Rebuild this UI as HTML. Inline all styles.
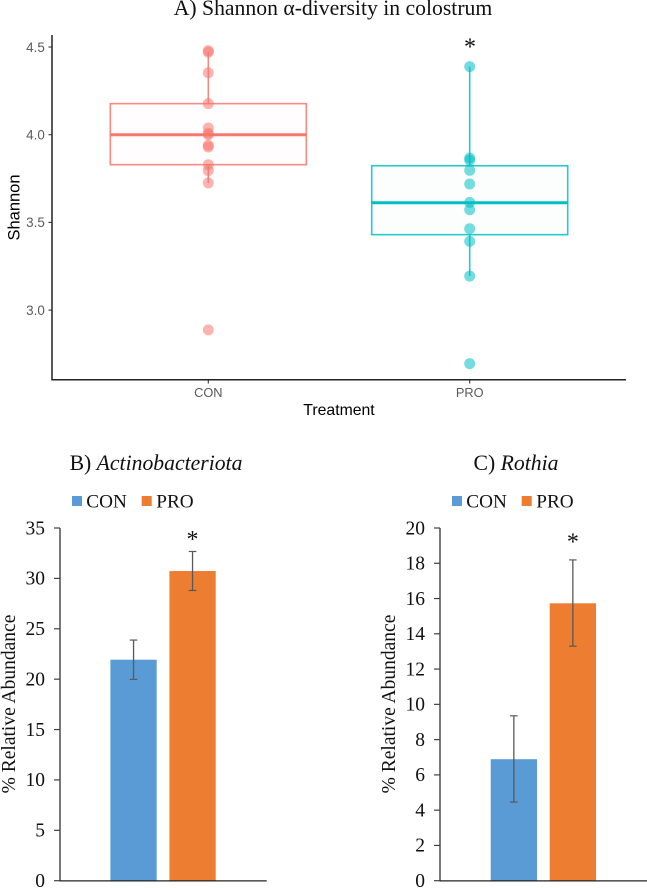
<!DOCTYPE html>
<html>
<head>
<meta charset="utf-8">
<title>Colostrum microbiota charts</title>
<style>
html,body{margin:0;padding:0;background:#fff;}
svg{display:block;}
.serif{font-family:"Liberation Serif",serif;fill:#111;}
.sans{font-family:"Liberation Sans",sans-serif;}
</style>
</head>
<body>
<svg id="figure" xmlns="http://www.w3.org/2000/svg" width="647" height="888" viewBox="0 0 647 888">
  <rect x="0" y="0" width="647" height="888" fill="#fff"/>
  <text class="serif" x="333" y="15" font-size="21.7" text-anchor="middle">A) Shannon α-diversity in colostrum</text>
  <text class="sans" transform="translate(19.3,207.5) rotate(-90)" font-size="16.5" text-anchor="middle" fill="#000">Shannon</text>
  <text class="sans" x="339" y="415" font-size="15.8" text-anchor="middle" fill="#000">Treatment</text>
  <text class="serif" x="470" y="54.5" font-size="24" text-anchor="middle">*</text>
  <g id="panel-a"></g>

  <text class="serif" x="156" y="470" font-size="21.7" text-anchor="middle">B) <tspan font-style="italic">Actinobacteriota</tspan></text>
  <text class="serif" transform="translate(15,704) rotate(-90)" font-size="19.5" text-anchor="middle">% Relative Abundance</text>
  <g id="panel-b"></g>

  <text class="serif" x="516" y="470" font-size="21.7" text-anchor="middle">C) <tspan font-style="italic">Rothia</tspan></text>
  <text class="serif" transform="translate(395,704) rotate(-90)" font-size="19.5" text-anchor="middle">% Relative Abundance</text>
  <g id="panel-c"></g>
</svg>
<script>
var boxGroups = ['CON', 'PRO'];
var boxTicks = [3.0, 3.5, 4.0, 4.5];
var conPoints = [4.479, 4.47, 4.353, 4.177, 4.038, 4.008, 4.0, 3.94, 3.93, 3.829, 3.795, 3.725, 2.887];
var proPoints = [4.388, 3.867, 3.854, 3.797, 3.719, 3.614, 3.572, 3.464, 3.392, 3.194, 2.695];
var conBox = [3.725, 3.829, 4.0, 4.177, 4.47];
var proBox = [3.194, 3.43, 3.612, 3.823, 4.388];

var legendLabels = ['CON', 'PRO'];
var actinoTicks = [0, 5, 10, 15, 20, 25, 30, 35];
var actinoMeans = [21.93, 30.73];
var actinoUpper = [23.88, 32.67];
var actinoLower = [19.98, 28.8];
var rothiaTicks = [0, 2, 4, 6, 8, 10, 12, 14, 16, 18, 20];
var rothiaMeans = [6.89, 15.73];
var rothiaUpper = [9.35, 18.19];
var rothiaLower = [4.46, 13.3];

var NS = 'http://www.w3.org/2000/svg';
function make(parent, tag, attrs, text) {
  var el = document.createElementNS(NS, tag);
  for (var k in attrs) { el.setAttribute(k, attrs[k]); }
  if (text !== undefined) { el.textContent = text; }
  parent.appendChild(el);
  
  return el;
}
function line(parent, x1, y1, x2, y2, stroke, w, op) {
  return make(parent, 'line', {x1: x1, y1: y1, x2: x2, y2: y2, stroke: stroke, 'stroke-width': w, 'stroke-opacity': op === undefined ? 1 : op});
}

/* Panel A */
(function () {
  var g = document.getElementById('panel-a');
  var y = function (v) { return 134.7 - (v - 4) * 175.4; };
  var x = function (i) { return 208.3 + i * 261.4; };
  var halfWidth = 98;
  var colors = ['#F8766D', '#00BFC4'];
  var boxes = [conBox, proBox];
  var points = [conPoints, proPoints];
  var yAxis = line(g, 52, 35, 52, 380, '#222', 1.5);
  
  var xAxis = line(g, 51.4, 379.8, 626, 379.8, '#222', 1.5);
  
  boxTicks.forEach(function (t) {
    var tick = line(g, 48.5, y(t), 52, y(t), '#333', 1.1);
    
    var lab = make(g, 'text', {x: 44.8, y: y(t) + 4.8, 'text-anchor': 'end', 'font-size': 13.4, 'class': 'sans', fill: '#5a5a5a'}, t.toFixed(1));
    
  });
  boxGroups.forEach(function (name, i) {
    var tick = line(g, x(i), 380, x(i), 383.5, '#333', 1.1);
    
    var lab = make(g, 'text', {x: x(i), y: 397, 'text-anchor': 'middle', 'font-size': 12.8, 'class': 'sans', fill: '#5a5a5a'}, name);
    
    var b = boxes[i];
    var lowW = line(g, x(i), y(b[0]), x(i), y(b[1]), colors[i], 1.6, 0.85);
    
    var upW = line(g, x(i), y(b[3]), x(i), y(b[4]), colors[i], 1.6, 0.85);
    
    var box = make(g, 'rect', {x: x(i) - halfWidth, y: y(b[3]), width: halfWidth * 2, height: y(b[1]) - y(b[3]), fill: colors[i], 'fill-opacity': 0.012, stroke: colors[i], 'stroke-width': 1.6, 'stroke-opacity': 0.85});
    
    var med = line(g, x(i) - halfWidth, y(b[2]), x(i) + halfWidth, y(b[2]), colors[i], 3, 1);
    
    points[i].forEach(function (v) {
      var c = make(g, 'circle', {cx: x(i), cy: y(v), r: 5.5, fill: colors[i], 'fill-opacity': 0.55});
      
    });
  });
})();

/* Panels B and C */
function barPanel(id, ticks, means, upper, lower, axisX, axisEnd, barLeft, starY) {
  var g = document.getElementById(id);
  var top = ticks[ticks.length - 1];
  var y = function (v) { return 880.7 - v / top * 352.7; };
  var barColors = ['#5B9BD5', '#ED7D31'];
  var barW = 46.3;
  var step = 59;
  var legendX = axisX + 12;
  legendLabels.forEach(function (name, i) {
    var sw = make(g, 'rect', {x: legendX + i * 69.7, y: 496, width: 10, height: 10, fill: barColors[i]});
    
    var lab = make(g, 'text', {x: legendX + 14.3 + i * 70, y: 507.5, 'font-size': 19.2, 'class': 'serif'}, name);
    
  });
  means.forEach(function (v, i) {
    var bx = barLeft + i * step;
    var bar = make(g, 'rect', {x: bx, y: y(v), width: barW, height: 880.7 - y(v), fill: barColors[i]});
    
    var cx = bx + barW / 2;
    var stem = line(g, cx, y(upper[i]), cx, y(lower[i]), '#595959', 1.3);
    
    var capT = line(g, cx - 3.8, y(upper[i]), cx + 3.8, y(upper[i]), '#595959', 1.2);
    
    var capB = line(g, cx - 3.8, y(lower[i]), cx + 3.8, y(lower[i]), '#595959', 1.2);
    
  });
  var yAxis = line(g, axisX, 528, axisX, 881, '#404040', 1.4);
  
  var xAxis = line(g, axisX - 0.6, 880.9, axisEnd, 880.9, '#222', 1.3);
  
  ticks.forEach(function (t) {
    var tick = line(g, axisX - 6, y(t), axisX, y(t), '#404040', 1.2);
    
    var lab = make(g, 'text', {x: axisX - 15, y: y(t) + 6.3, 'text-anchor': 'end', 'font-size': 19.5, 'class': 'serif'}, String(t));
    
  });
  var star = make(g, 'text', {x: barLeft + step + barW / 2, y: starY, 'text-anchor': 'middle', 'font-size': 24, 'class': 'serif'}, '*');
  
}
barPanel('panel-b', actinoTicks, actinoMeans, actinoUpper, actinoLower, 60, 266.7, 110.4, 547);
barPanel('panel-c', rothiaTicks, rothiaMeans, rothiaUpper, rothiaLower, 440, 647, 490.7, 549.5);
</script>
</body>
</html>
